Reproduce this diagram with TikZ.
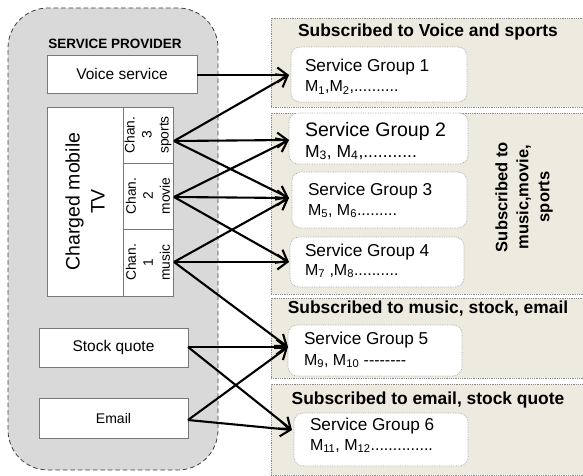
\documentclass[tikz,border=0pt]{standalone}
\usepackage{fontspec}
\setmainfont{Liberation Sans}
\usetikzlibrary{arrows.meta}
\definecolor{provfill}{RGB}{217,217,217}
\definecolor{panelfill}{RGB}{237,234,224}
\definecolor{boxline}{RGB}{120,120,120}
\begin{document}
\begin{tikzpicture}[x=1pt,y=-1pt,
  every node/.style={inner sep=0pt, outer sep=0pt},
  provbox/.style={draw=black!75, dash pattern=on 4.5pt off 3pt, line width=0.8pt, fill=provfill, rounded corners=40pt},
  whitebox/.style={draw=boxline, line width=0.7pt, fill=white},
  panel/.style={draw=black!45, densely dotted, line width=0.8pt, fill=panelfill},
  sgbox/.style={draw=black!35, densely dotted, line width=0.7pt, fill=white, rounded corners=9pt},
  arr/.style={line width=2.1pt, -{Straight Barb[length=10pt,width=15pt,line width=2.1pt]}},
  ttl/.style={font=\fontsize{17.4}{20}\selectfont\bfseries},
  sgt/.style={anchor=base west, font=\fontsize{17.2}{20}\selectfont},
  sgm/.style={anchor=base west, font=\fontsize{16}{19}\selectfont},
  lbl/.style={font=\fontsize{15.5}{18}\selectfont},
  chan/.style={rotate=90, align=center, font=\fontsize{13.8}{17}\selectfont}
]
\clip (0,0) rectangle (583,476);
% service provider
\node[provbox, minimum width=210, minimum height=462] (prov) at (113,239) {};
\node[font=\fontsize{13.5}{16}\selectfont\bfseries] (sptitle) at (115,44) {SERVICE PROVIDER};
\node[whitebox, lbl, minimum width=150, minimum height=38] (voice) at (122,74) {Voice service};
\node[whitebox, minimum width=76, minimum height=189] (tv) at (85,201.5) {};
\node[rotate=90, align=center, font=\fontsize{19.5}{25}\selectfont] (tvtext) at (tv.center) {Charged mobile\\TV};
\node[whitebox, minimum width=50, minimum height=56] (ch3) at (148,135) {};
\node[whitebox, minimum width=50, minimum height=66] (ch2) at (148,196) {};
\node[whitebox, minimum width=50, minimum height=67] (ch1) at (148,262.5) {};
\node[chan] (ch3t) at (ch3.center) {Chan.\\3\\sports};
\node[chan] (ch2t) at (ch2.center) {Chan.\\2\\movie};
\node[chan] (ch1t) at (ch1.center) {Chan.\\1\\music};
\node[whitebox, lbl, minimum width=149, minimum height=39] (stock) at (113.5,347.5) {Stock quote};
\node[whitebox, font=\fontsize{14}{17}\selectfont, minimum width=149, minimum height=40] (email) at (113.5,418) {Email};
% panels
\node[panel, minimum width=319, minimum height=89] (p1) at (430.5,62.5) {};
\node[panel, minimum width=319, minimum height=181] (p2) at (430.5,203.5) {};
\node[panel, minimum width=319, minimum height=80] (p3) at (430.5,338) {};
\node[panel, minimum width=319, minimum height=91] (p4) at (430.5,429.5) {};
\node[ttl] (t1) at (428,32) {Subscribed to Voice and sports};
\node[ttl] (t3) at (428,309) {Subscribed to music, stock, email};
\node[ttl] (t4) at (428,400) {Subscribed to email, stock quote};
\node[rotate=90, align=center, font=\fontsize{16.5}{21}\selectfont\bfseries] (t2) at (524,197) {Subscribed to\\music,movie,\\sports};
% service groups
\node[sgbox, minimum width=176, minimum height=55] (sg1) at (379,74.5) {};
\node[sgbox, minimum width=179, minimum height=51] (sg2) at (378.5,138.5) {};
\node[sgbox, minimum width=175, minimum height=56] (sg3) at (379.5,200) {};
\node[sgbox, minimum width=174, minimum height=50] (sg4) at (377,262) {};
\node[sgbox, minimum width=174, minimum height=51] (sg5) at (375,350.5) {};
\node[sgbox, minimum width=174, minimum height=53] (sg6) at (381,439.5) {};
\node[sgt] (sg1a) at (305,72) {Service Group 1};
\node[sgm] (sg1b) at (305,92) {M\textsubscript{1},M\textsubscript{2},..........};
\node[sgt, font=\fontsize{19.5}{22}\selectfont] (sg2a) at (305,136) {Service Group 2};
\node[sgm, font=\fontsize{17.5}{20}\selectfont] (sg2b) at (305,157) {M\textsubscript{3}, M\textsubscript{4},...........};
\node[sgt] (sg3a) at (308,195) {Service Group 3};
\node[sgm] (sg3b) at (308,215) {M\textsubscript{5}, M\textsubscript{6}.........};
\node[sgt] (sg4a) at (305,256) {Service Group 4};
\node[sgm] (sg4b) at (305,275) {M\textsubscript{7} ,M\textsubscript{8}..........};
\node[sgt] (sg5a) at (304,344) {Service Group 5};
\node[sgm] (sg5b) at (304,365) {M\textsubscript{9}, M\textsubscript{10} -{}-{}-{}-{}-{}-{}-{}-};
\node[sgt] (sg6a) at (310,430) {Service Group 6};
\node[sgm] (sg6b) at (310,450) {M\textsubscript{11}, M\textsubscript{12}..............};
% connector ends
\coordinate (s3) at (174,141);
\coordinate (s2) at (174,197);
\coordinate (s1) at (174,262);
\coordinate (so) at (188,347);
\coordinate (se) at (188,420);
\coordinate (i1) at (289,75);
\coordinate (i2) at (289,140);
\coordinate (i3) at (289,198);
\coordinate (i4) at (289,262);
\coordinate (i5) at (288,347);
\coordinate (i6) at (292,430);
\draw[arr] (voice.east |- i1) -- (i1);
\draw[arr] (s3) -- (i1);
\draw[arr] (s3) -- (i2);
\draw[arr] (s3) -- (i3);
\draw[arr] (s2) -- (i2);
\draw[arr] (s2) -- (i3);
\draw[arr] (s2) -- (i4);
\draw[arr] (s1) -- (i3);
\draw[arr] (s1) -- (i4);
\draw[arr] (s1) -- (i5);
\draw[arr] (so) -- (i5);
\draw[arr] (so) -- (i6);
\draw[arr] (se) -- (i5);
\draw[arr] (se) -- (i6);
\end{tikzpicture}
\end{document}
